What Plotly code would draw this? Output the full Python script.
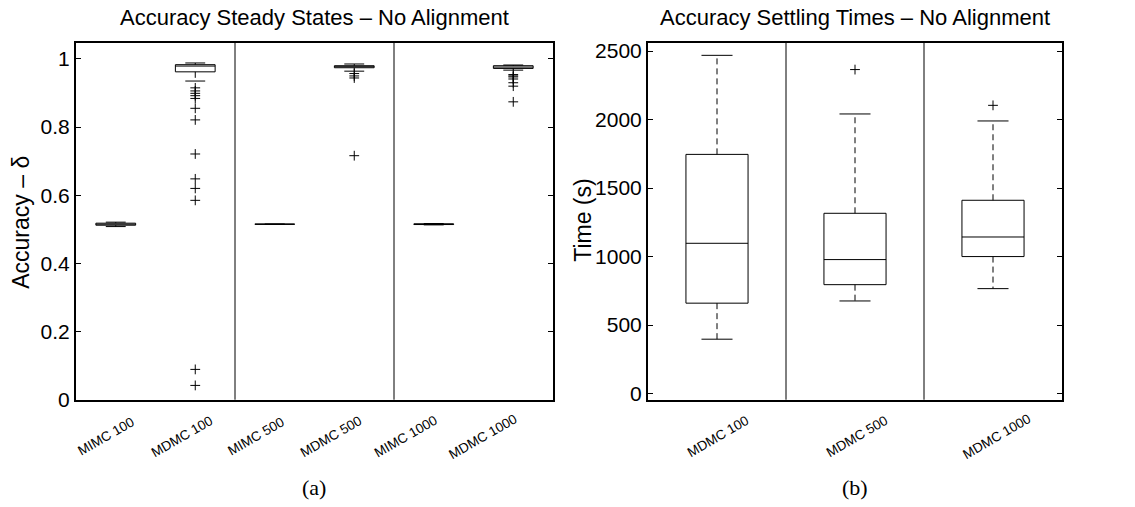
import plotly.graph_objects as go

# ---------------- data ----------------
cats_a = ["MIMC 100", "MDMC 100", "MIMC 500", "MDMC 500", "MIMC 1000", "MDMC 1000"]
a_q1 = [0.512, 0.962, 0.515, 0.974, 0.514, 0.972]
a_med = [0.515, 0.979, 0.515, 0.977, 0.515, 0.976]
a_q3 = [0.518, 0.983, 0.515, 0.980, 0.516, 0.980]
a_lo = [0.508, 0.935, 0.515, 0.964, 0.513, 0.967]
a_hi = [0.521, 0.988, 0.515, 0.985, 0.517, 0.982]
a_out = [
    [],
    [0.915, 0.906, 0.899, 0.892, 0.884, 0.855, 0.821, 0.721, 0.648, 0.620, 0.585, 0.089, 0.042],
    [],
    [0.957, 0.950, 0.944, 0.716],
    [],
    [0.954, 0.950, 0.947, 0.941, 0.930, 0.920, 0.874],
]
a_ticks = [0, 0.2, 0.4, 0.6, 0.8, 1]
a_ticktext = ["0", "0.2", "0.4", "0.6", "0.8", "1"]

cats_b = ["MDMC 100", "MDMC 500", "MDMC 1000"]
b_q1 = [660, 795, 1000]
b_med = [1097, 978, 1143]
b_q3 = [1746, 1316, 1411]
b_lo = [397, 676, 766]
b_hi = [2469, 2041, 1990]
b_out = [[], [2365], [2104]]
b_ticks = [0, 500, 1000, 1500, 2000, 2500]

title_a = "Accuracy Steady States \u2013 No Alignment"
title_b = "Accuracy Settling Times \u2013 No Alignment"
ylab_a = "Accuracy \u2013 \u03b4"
ylab_b = "Time (s)"

# ---------------- styling ----------------
W, H = 1135, 507
FONT = "Liberation Sans, Arial, sans-serif"
SERIF = "Liberation Serif, serif"
PLOT_TOP, PLOT_BOT = 41, 408
LABEL_Y = 446
CAP_Y = 498
shift_a = [-10, -13, -19, -23, -28, -30]   # px offsets of rotated labels
shift_b = [1, 2, 4]

fig = go.Figure()


def add_panel(xa, ya, cats, q1, med, q3, lo, hi, outs, bw, shifts):
    pos = list(range(len(cats)))
    fig.add_trace(go.Box(
        x=pos, q1=q1, median=med, q3=q3, lowerfence=q1, upperfence=q3,
        width=bw, whiskerwidth=0, fillcolor="white",
        line=dict(color="black", width=1), boxpoints=False,
        xaxis=xa, yaxis=ya, showlegend=False, hoverinfo="skip"))
    wx, wy, cx, cy = [], [], [], []
    for p, a, b, l, h in zip(pos, q1, q3, lo, hi):
        wx += [p, p, None, p, p, None]
        wy += [b, h, None, a, l, None]
        cx += [p - bw / 4, p + bw / 4, None, p - bw / 4, p + bw / 4, None]
        cy += [h, h, None, l, l, None]
    fig.add_trace(go.Scatter(x=wx, y=wy, mode="lines",
                             line=dict(color="black", width=1, dash="6px,4px"),
                             xaxis=xa, yaxis=ya, showlegend=False, hoverinfo="skip"))
    fig.add_trace(go.Scatter(x=cx, y=cy, mode="lines",
                             line=dict(color="black", width=1),
                             xaxis=xa, yaxis=ya, showlegend=False, hoverinfo="skip"))
    ox, oy = [], []
    for p, o in zip(pos, outs):
        ox += [p] * len(o)
        oy += o
    fig.add_trace(go.Scatter(x=ox, y=oy, mode="markers",
                             marker=dict(symbol="cross-thin", size=7,
                                         line=dict(color="black", width=1)),
                             xaxis=xa, yaxis=ya, showlegend=False, hoverinfo="skip"))
    # rotated category labels
    for p, c, s in zip(pos, cats, shifts):
        fig.add_annotation(text=c, x=p, y=1 - LABEL_Y / H, xref=xa, yref="paper",
                           xshift=s, xanchor="center", yanchor="middle",
                           showarrow=False, textangle=-30,
                           font=dict(family=FONT, size=13.5, color="black"))


add_panel("x", "y", cats_a, a_q1, a_med, a_q3, a_lo, a_hi, a_out, 0.5, shift_a)
add_panel("x2", "y2", cats_b, b_q1, b_med, b_q3, b_lo, b_hi, b_out, 0.45, shift_b)

# separators between groups
for xv in [1.5, 3.5]:
    fig.add_shape(type="line", xref="x", yref="y domain", x0=xv, x1=xv, y0=0, y1=1,
                  line=dict(color="black", width=1))
for xv in [0.5, 1.5]:
    fig.add_shape(type="line", xref="x2", yref="y2 domain", x0=xv, x1=xv, y0=0, y1=1,
                  line=dict(color="black", width=1))

ydom = [1 - PLOT_BOT / H, 1 - PLOT_TOP / H]
xcommon = dict(showline=True, linewidth=2, linecolor="black", mirror=True,
               ticks="", showgrid=False, zeroline=False, showticklabels=False)
ycommon = dict(showline=True, linewidth=2, linecolor="black", mirror="allticks",
               ticks="inside", ticklen=5, tickwidth=1, tickcolor="black",
               showgrid=False, zeroline=False,
               tickfont=dict(family=FONT, size=21, color="black"))

fig.update_layout(
    width=W, height=H, margin=dict(l=0, r=0, t=0, b=0),
    paper_bgcolor="white", plot_bgcolor="white",
    xaxis=dict(domain=[76 / W, 553 / W], range=[-0.5, 5.5], **xcommon),
    yaxis=dict(domain=ydom, range=[0, 1.047], tickvals=a_ticks, ticktext=a_ticktext,
               **ycommon),
    xaxis2=dict(domain=[648 / W, 1062 / W], range=[-0.5, 2.5], anchor="y2", **xcommon),
    yaxis2=dict(domain=ydom, range=[-45, 2560], anchor="x2", tickvals=b_ticks,
                **ycommon),
)

ann = [
    dict(text=title_a, x=314.5 / W, y=1 - 15 / H, size=22, family=FONT, angle=0),
    dict(text=title_b, x=855 / W, y=1 - 15 / H, size=22, family=FONT, angle=0),
    dict(text=ylab_a, x=21 / W, y=1 - 226 / H, size=23, family=FONT, angle=-90),
    dict(text=ylab_b, x=583 / W, y=1 - 224 / H, size=23, family=FONT, angle=-90),
    dict(text="(a)", x=314 / W, y=1 - CAP_Y / H, size=22, family=SERIF, angle=0),
    dict(text="(b)", x=855 / W, y=1 - CAP_Y / H, size=22, family=SERIF, angle=0),
]
for a in ann:
    fig.add_annotation(text=a["text"], x=a["x"], y=a["y"], xref="paper", yref="paper",
                       xanchor="center", yanchor="middle", showarrow=False,
                       textangle=a["angle"],
                       font=dict(family=a["family"], size=a["size"], color="black"))

fig.write_html("out.html")
